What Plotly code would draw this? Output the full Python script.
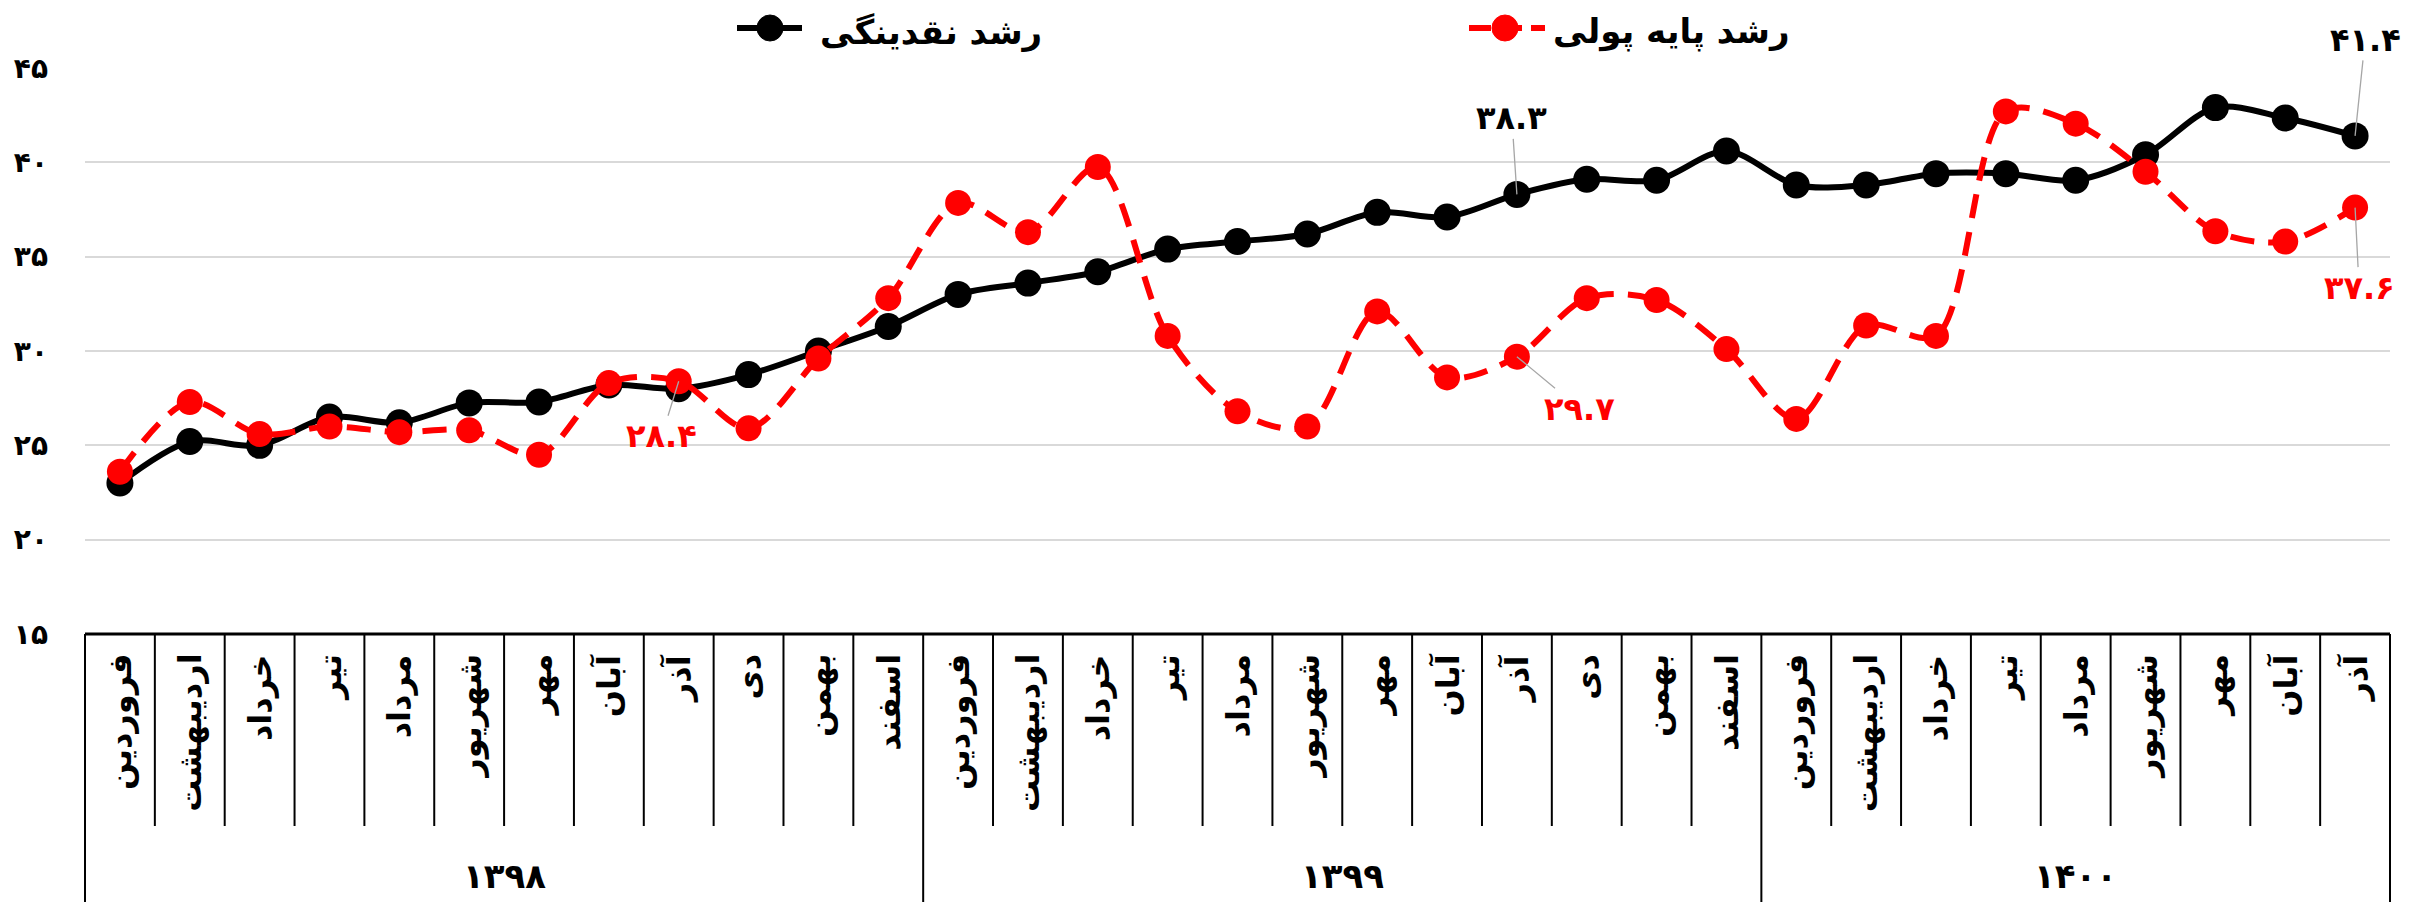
import plotly.graph_objects as go

# ---------------- data ----------------
years = ['۱۳۹۸', '۱۳۹۹', '۱۴۰۰']
months_1398 = ['فروردین', 'اردیبهشت', 'خرداد', 'تیر', 'مرداد', 'شهریور',
               'مهر', 'آبان', 'آذر', 'دی', 'بهمن', 'اسفند']
months_1399 = ['فروردین', 'اردیبهشت', 'خرداد', 'تیر', 'مرداد', 'شهریور',
               'مهر', 'آبان', 'آذر', 'دی', 'بهمن', 'اسفند']
months_1400 = ['فروردین', 'اردیبهشت', 'خرداد', 'تیر', 'مرداد', 'شهریور',
               'مهر', 'آبان', 'آذر']

liquidity_growth = [23.0, 25.2, 25.0, 26.5, 26.2, 27.25, 27.3, 28.2, 28.0, 28.75, 30.0, 31.3,
                    33.0, 33.6, 34.2, 35.4, 35.8, 36.2, 37.35, 37.1, 38.3, 39.1, 39.05, 40.6,
                    38.8, 38.8, 39.4, 39.4, 39.05, 40.4, 42.9, 42.35, 41.4]
base_money_growth = [23.6, 27.3, 25.6, 26.0, 25.7, 25.8, 24.5, 28.3, 28.4, 25.9, 29.6, 32.8,
                     37.85, 36.3, 39.75, 30.8, 26.8, 26.0, 32.1, 28.6, 29.7, 32.8, 32.7, 30.1,
                     26.4, 31.35, 30.8, 42.7, 42.05, 39.5, 36.35, 35.8, 37.6]

name_liq = 'رشد نقدینگی'
name_base = 'رشد پایه پولی'
y_ticks = [15, 20, 25, 30, 35, 40, 45]

# ---------------- helpers ----------------
FA = str.maketrans('0123456789', '۰۱۲۳۴۵۶۷۸۹')


def fa(v):
    return str(v).translate(FA)


months = months_1398 + months_1399 + months_1400
group_sizes = [len(months_1398), len(months_1399), len(months_1400)]
N = len(months)
xs = list(range(N))

FONT = 'DejaVu Sans'
BLACK = '#000000'
RED = '#ff0000'

fig = go.Figure()
fig.add_trace(go.Scatter(
    x=xs, y=liquidity_growth, name=name_liq, mode='lines+markers',
    line=dict(color=BLACK, width=6, shape='spline', smoothing=0.9),
    marker=dict(color=BLACK, size=27), showlegend=False, cliponaxis=False))
fig.add_trace(go.Scatter(
    x=xs, y=base_money_growth, name=name_base, mode='lines+markers',
    line=dict(color=RED, width=6, shape='spline', smoothing=0.9, dash='24px,14px'),
    marker=dict(color=RED, size=26), showlegend=False, cliponaxis=False))

W, H = 2417, 902
ML, MR, MT, MB = 85, 27, 68, 268
PW, PH = W - ML - MR, H - MT - MB


def py(px):  # pixel row -> paper y
    return (H - MB - px) / PH


def pxx(px):  # pixel col -> paper x
    return (px - ML) / PW


shapes = []
annotations = []

# table: top line, borders, dividers
shapes.append(dict(type='line', xref='paper', yref='paper', x0=0, x1=1, y0=0, y1=0,
                   line=dict(color=BLACK, width=3)))
bottom = py(H + 5)
cell_bottom = py(826)
bounds = []
acc = 0
for g in group_sizes:
    acc += g
    bounds.append(acc)
shapes.append(dict(type='line', xref='paper', yref='paper', x0=0, x1=0, y0=0, y1=bottom,
                   line=dict(color=BLACK, width=2)))
for i in range(1, N + 1):
    xp = i / N
    yb = bottom if i in bounds else cell_bottom
    shapes.append(dict(type='line', xref='paper', yref='paper', x0=xp, x1=xp, y0=0, y1=yb,
                       line=dict(color=BLACK, width=2)))

# month labels (vertical)
for i, m in enumerate(months):
    annotations.append(dict(x=i, xref='x', y=py(652), yref='paper', text=m,
                            showarrow=False, textangle=-90, xanchor='center', yanchor='top',
                            font=dict(family=FONT, size=32, color=BLACK, weight=700)))
# year labels
start = 0
for yr, g in zip(years, group_sizes):
    annotations.append(dict(x=start + (g - 1) / 2, xref='x', y=py(876), yref='paper',
                            text=fa(yr), showarrow=False, xanchor='center', yanchor='middle',
                            font=dict(family=FONT, size=34, color=BLACK, weight=700)))
    start += g

# data labels with leader lines
label_specs = [
    (liquidity_growth, 32, BLACK, 10, -96),
    (liquidity_growth, 20, BLACK, -5, -76),
    (base_money_growth, 32, RED, 4, 80),
    (base_money_growth, 20, RED, 63, 52),
    (base_money_growth, 8, RED, -17, 55),
]
for series, idx, col, ax, ay in label_specs:
    annotations.append(dict(x=idx, y=series[idx], xref='x', yref='y',
                            text=fa(f'{series[idx]:.1f}'), showarrow=True, arrowhead=0,
                            arrowwidth=1.3, arrowcolor='#a6a6a6', ax=ax, ay=ay, standoff=0,
                            font=dict(family=FONT, size=32, color=col, weight=700)))

# custom legend
legend_items = [
    (name_liq, BLACK, 'solid', 737, 802, 770, 818),
    (name_base, RED, '22px,9px', 1469, 1545, 1505, 1551),
]
for name, col, dash, lx0, lx1, mx, tx in legend_items:
    shapes.append(dict(type='line', xref='paper', yref='paper', x0=pxx(lx0), x1=pxx(lx1),
                       y0=py(28), y1=py(28), line=dict(color=col, width=6, dash=dash)))
    shapes.append(dict(type='circle', xref='paper', yref='paper', xsizemode='pixel',
                       ysizemode='pixel', xanchor=pxx(mx), yanchor=py(28),
                       x0=-13, x1=13, y0=-13, y1=13, fillcolor=col, line=dict(color=col, width=1)))
    annotations.append(dict(x=pxx(tx), y=py(32), xref='paper', yref='paper', text=name,
                            showarrow=False, xanchor='left', yanchor='middle',
                            font=dict(family=FONT, size=34, color=BLACK, weight=700)))

fig.update_layout(
    width=W, height=H,
    margin=dict(l=ML, r=MR, t=MT, b=MB),
    paper_bgcolor='white', plot_bgcolor='white',
    shapes=shapes, annotations=annotations,
    showlegend=False,
    xaxis=dict(range=[-0.5, N - 0.5], showgrid=False, zeroline=False, showticklabels=False,
               ticks='', showline=False, fixedrange=True),
    yaxis=dict(range=[y_ticks[0], y_ticks[-1]], tickvals=y_ticks,
               ticktext=[fa(v) for v in y_ticks], showgrid=True, gridcolor='#d9d9d9',
               gridwidth=2, zeroline=False, showline=False, ticks='',
               ticklabelstandoff=36,
               tickfont=dict(family=FONT, size=28, color=BLACK, weight=700)),
)

fig.write_html('out.html', config={'displayModeBar': False},
               post_script="document.body.style.margin='0';document.body.style.overflow='hidden';")
